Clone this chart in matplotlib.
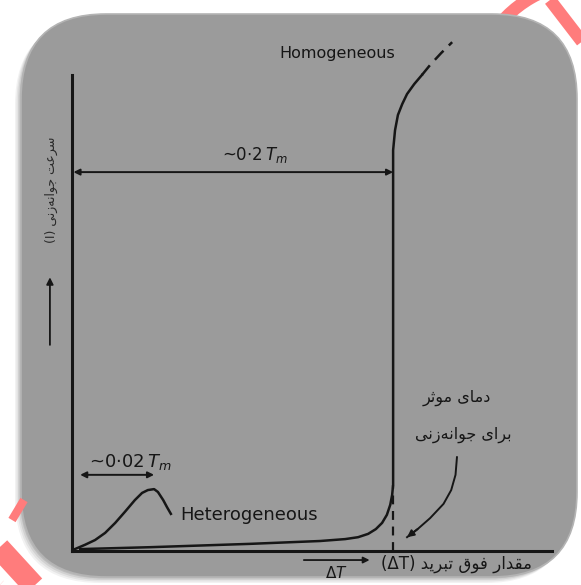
import matplotlib
matplotlib.use("Agg")
import matplotlib.pyplot as plt
from matplotlib.patches import FancyBboxPatch, Arc

# nucleation rate I vs undercooling dT (arbitrary units)
homo_x = [1.7, 16.3, 37.1, 51.7, 56.9, 59.6, 61.7, 63.3, 64.6, 65.6, 66.3, 66.7, 66.9,
          66.9, 66.9, 67.3, 67.9, 68.8, 69.8, 71.3, 72.9]
homo_y = [0.4, 0.8, 1.5, 2.1, 2.5, 2.9, 3.6, 4.6, 5.9, 7.6, 9.7, 11.8, 13.9,
          80.0, 84.2, 88.4, 91.6, 93.9, 96.0, 98.1, 100.0]
homo_tail_x = [72.9, 74.6, 76.9, 79.2]
homo_tail_y = [100.0, 102.1, 104.6, 106.9]

hetero_x = [0.6, 2.7, 4.8, 6.9, 9.0, 11.0, 13.1, 14.6, 15.8, 17.1, 17.9, 19.0, 19.8, 20.6]
hetero_y = [0.4, 1.3, 2.3, 3.8, 5.9, 8.2, 10.7, 12.2, 12.8, 13.0, 12.4, 10.7, 9.2, 7.8]

tm_x = 66.9          # dT where homogeneous nucleation takes off (~0.2 Tm)
tm_y = 79.6          # height of the ~0.2Tm arrow
het_span = [1.7, 17.1]   # ~0.02Tm arrow
het_span_y = 16.0

pointer_x = [80.2, 79.9, 79.0, 77.4, 74.6, 72.0, 69.8]
pointer_y = [19.7, 16.0, 12.8, 9.9, 6.9, 4.6, 2.9]

label_homo = "Homogeneous"
label_hetero = "Heterogeneous"
label_02 = r"~0$\cdot$2$\,T_m$"
label_002 = r"~0$\cdot$02$\,T_m$"
ylabel = "سرعت جوانه\u200cزنی (I)"
xlabel = "مقدار فوق تبرید (ΔT)"
note1 = "دمای موثر"
note2 = "برای جوانه\u200cزنی"

# presentation forms: isolated, final, initial, medial
FORMS = {
    'ا': ('\ufe8d', '\ufe8e', None, None),
    'ب': ('\ufe8f', '\ufe90', '\ufe91', '\ufe92'),
    'ت': ('\ufe95', '\ufe96', '\ufe97', '\ufe98'),
    'ث': ('\ufe99', '\ufe9a', '\ufe9b', '\ufe9c'),
    'ج': ('\ufe9d', '\ufe9e', '\ufe9f', '\ufea0'),
    'د': ('\ufea9', '\ufeaa', None, None),
    'ر': ('\ufead', '\ufeae', None, None),
    'ز': ('\ufeaf', '\ufeb0', None, None),
    'س': ('\ufeb1', '\ufeb2', '\ufeb3', '\ufeb4'),
    'ع': ('\ufec9', '\ufeca', '\ufecb', '\ufecc'),
    'ف': ('\ufed1', '\ufed2', '\ufed3', '\ufed4'),
    'ق': ('\ufed5', '\ufed6', '\ufed7', '\ufed8'),
    'م': ('\ufee1', '\ufee2', '\ufee3', '\ufee4'),
    'ن': ('\ufee5', '\ufee6', '\ufee7', '\ufee8'),
    'ه': ('\ufee9', '\ufeea', '\ufeeb', '\ufeec'),
    'و': ('\ufeed', '\ufeee', None, None),
    'ی': ('\ufeef', '\ufef0', '\ufef3', '\ufef4'),
}


def farsi(text):
    # no bidi/shaping in matplotlib, so do it by hand
    words = []
    for w in text.split(' '):
        if not any(c in FORMS for c in w):
            words.append(w)
            continue
        out = []
        for i, c in enumerate(w):
            if c not in FORMS:
                continue
            prev = w[i - 1] if i > 0 else ''
            nxt = w[i + 1] if i + 1 < len(w) else ''
            a = prev in FORMS and FORMS[prev][2] is not None
            b = FORMS[c][2] is not None and nxt in FORMS
            iso, fin, ini, med = FORMS[c]
            out.append(med if a and b else fin if a else ini if b else iso)
        words.append(''.join(reversed(out)))
    return ' '.join(reversed(words))


ink = '#161616'
plt.rcParams['font.family'] = ['DejaVu Sans']

fig = plt.figure(figsize=(5.81, 5.85), dpi=100)
fig.patch.set_facecolor('white')

# background: watermark + grey rounded card with shadow
bg = fig.add_axes([0, 0, 1, 1])
bg.set_xlim(0, 581)
bg.set_ylim(585, 0)
bg.axis('off')
red = '#ff7c7c'
bg.add_patch(Arc((590, 100), 236, 236, theta1=180, theta2=300, color=red, lw=9))
bg.plot([550, 600], [0, 65], color=red, lw=9, solid_capstyle='butt')
bg.plot([-10, 45], [538, 598], color=red, lw=16, solid_capstyle='butt')
bg.plot([-10, 15], [578, 600], color=red, lw=10, solid_capstyle='butt')
bg.plot([12, 24], [520, 500], color=red, lw=6, solid_capstyle='butt')
for k, a in enumerate([0.05, 0.06, 0.08, 0.10]):
    off = 6 - k * 1.5
    bg.add_patch(FancyBboxPatch((21 - off, 14 + off), 556, 563,
                                boxstyle="round,pad=0,rounding_size=85",
                                fc='black', ec='none', alpha=a))
bg.add_patch(FancyBboxPatch((21, 14), 556, 563,
                            boxstyle="round,pad=0,rounding_size=85",
                            fc='#9b9b9b', ec='#b4b4b4', lw=1.2))

# the chart itself
ax = fig.add_axes([72 / 581, 1 - 551 / 585, 480 / 581, 476 / 585])
ax.set_xlim(0, 100)
ax.set_ylim(0, 100)
ax.patch.set_alpha(0)
for s in ['top', 'right']:
    ax.spines[s].set_visible(False)
for s in ['left', 'bottom']:
    ax.spines[s].set_color(ink)
    ax.spines[s].set_linewidth(2.2)
ax.set_xticks([])
ax.set_yticks([])

ax.plot(homo_x, homo_y, color=ink, lw=1.8, clip_on=False, solid_joinstyle='round')
ax.plot(homo_tail_x, homo_tail_y, color=ink, lw=1.8, dashes=(5, 3), clip_on=False)
ax.plot([tm_x, tm_x], [0, homo_y[12]], color=ink, lw=1.6, dashes=(4, 3))
ax.plot(hetero_x, hetero_y, color=ink, lw=1.8, solid_joinstyle='round')

arr = dict(arrowstyle='<|-|>', color=ink, lw=1.4, mutation_scale=9, shrinkA=0, shrinkB=0)
ax.annotate('', xy=(tm_x, tm_y), xytext=(0.3, tm_y), arrowprops=arr)
ax.annotate('', xy=(het_span[1], het_span_y), xytext=(het_span[0], het_span_y), arrowprops=arr)

ax.text(38.1, 83.2, label_02, fontsize=12, color=ink, ha='center', va='center')
ax.text(3.6, 18.7, label_002, fontsize=13, color=ink, ha='left', va='center')
ax.text(55.2, 104.6, label_homo, fontsize=11.5, color=ink, ha='center', va='center', clip_on=False)
ax.text(22.5, 7.6, label_hetero, fontsize=13, color=ink, ha='left', va='center')

# pointer to effective nucleation temperature
ax.plot(pointer_x, pointer_y, color=ink, lw=1.4)
ax.annotate('', xy=(pointer_x[-1], pointer_y[-1]), xytext=(pointer_x[-2], pointer_y[-2]),
            arrowprops=dict(arrowstyle='-|>', color=ink, lw=1.4, mutation_scale=10,
                            shrinkA=0, shrinkB=0))
ax.text(80.2, 32.1, farsi(note1), fontsize=11.5, color=ink, ha='center', va='center')
ax.text(81.5, 24.4, farsi(note2), fontsize=11.5, color=ink, ha='center', va='center')

# axis labels
ax.text(-4.2, 75.8, farsi(ylabel), fontsize=9, color='#2a2a2a', rotation=90,
        ha='center', va='center', clip_on=False)
ax.annotate('', xy=(-4.6, 57.5), xytext=(-4.6, 43.3), xycoords='data',
            arrowprops=dict(arrowstyle='-|>', color=ink, lw=1.3, mutation_scale=10,
                            shrinkA=0, shrinkB=0), annotation_clip=False)
ax.text(64.4, -2.6, farsi(xlabel), fontsize=12, color=ink, ha='left', va='center', clip_on=False)
ax.annotate('', xy=(62.0, -1.9), xytext=(48.3, -1.9),
            arrowprops=dict(arrowstyle='-|>', color=ink, lw=1.3, mutation_scale=9,
                            shrinkA=0, shrinkB=0), annotation_clip=False)
ax.text(55.0, -4.6, r'$\Delta T$', fontsize=11, color=ink, ha='center', va='center', clip_on=False)

fig.savefig('out.png', dpi=100)
